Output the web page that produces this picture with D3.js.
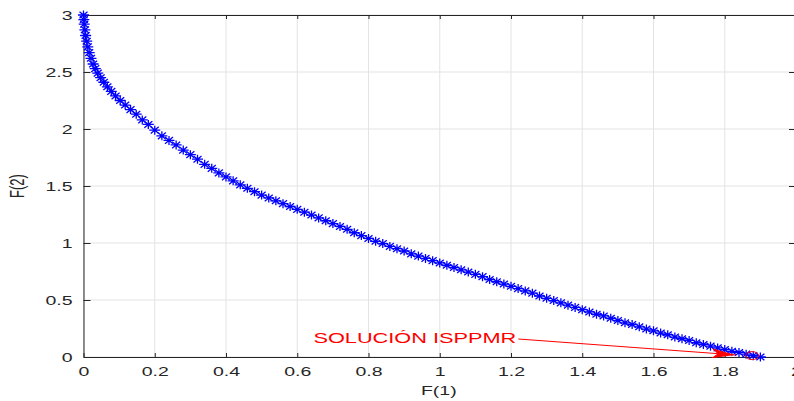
<!DOCTYPE html>
<html>
  <head>
    <meta charset="utf-8">
    <script src="https://cdn.jsdelivr.net/npm/d3@7"></script>
    <style>
      body { margin: 0; background: #fff; }
      text { font-family: "Liberation Sans", Arial, sans-serif; fill: #262626; }
    </style>
  </head>
  <body>
    <div id="my_dataviz"></div>
  <script>

    // Pareto front, F(1) vs F(2)
    let f1 = [0.000, 0.001, 0.002, 0.004, 0.006, 0.009, 0.012, 0.016, 0.021, 0.027,
              0.033, 0.040, 0.048, 0.057, 0.067, 0.078, 0.090, 0.103, 0.117, 0.132,
              0.148, 0.165, 0.182,
              0.20, 0.22, 0.24, 0.26, 0.28, 0.30, 0.32, 0.34, 0.36, 0.38,
              0.40, 0.42, 0.44, 0.46, 0.48, 0.50, 0.52, 0.54, 0.56, 0.58,
              0.60, 0.62, 0.64, 0.66, 0.68, 0.70, 0.72, 0.74, 0.76, 0.78,
              0.80, 0.82, 0.84, 0.86, 0.88, 0.90, 0.92, 0.94, 0.96, 0.98,
              1.00, 1.02, 1.04, 1.06, 1.08, 1.10, 1.12, 1.14, 1.16, 1.18,
              1.20, 1.22, 1.24, 1.26, 1.28, 1.30, 1.32, 1.34, 1.36, 1.38,
              1.40, 1.42, 1.44, 1.46, 1.48, 1.50, 1.52, 1.54, 1.56, 1.58,
              1.60, 1.62, 1.64, 1.66, 1.68, 1.70, 1.72, 1.74, 1.76, 1.78,
              1.80, 1.82, 1.84, 1.86, 1.88, 1.90];
    let f2 = [3.00, 2.96, 2.92, 2.87, 2.82, 2.77, 2.72, 2.67, 2.62, 2.57,
              2.53, 2.49, 2.45, 2.41, 2.37, 2.33, 2.29, 2.25, 2.21, 2.17,
              2.13, 2.08, 2.04,
              1.99, 1.94, 1.90, 1.86, 1.815, 1.775, 1.735, 1.69, 1.655, 1.615,
              1.58, 1.545, 1.51, 1.48, 1.45, 1.42, 1.395, 1.37, 1.345, 1.32,
              1.295, 1.27, 1.245, 1.22, 1.195, 1.17, 1.145, 1.12, 1.09, 1.065,
              1.04, 1.015, 0.995, 0.97, 0.95, 0.93, 0.905, 0.885, 0.865, 0.845,
              0.825, 0.805, 0.785, 0.765, 0.745, 0.725, 0.705, 0.68, 0.66, 0.64,
              0.62, 0.60, 0.58, 0.56, 0.535, 0.515, 0.495, 0.475, 0.455, 0.435,
              0.415, 0.395, 0.375, 0.36, 0.34, 0.32, 0.30, 0.285, 0.265, 0.245,
              0.23, 0.21, 0.195, 0.175, 0.16, 0.145, 0.125, 0.11, 0.095, 0.08,
              0.065, 0.05, 0.04, 0.025, 0.012, 0.000];

    let xTicks = [0, 0.2, 0.4, 0.6, 0.8, 1, 1.2, 1.4, 1.6, 1.8, 2];
    let yTicks = [0, 0.5, 1, 1.5, 2, 2.5, 3];

    let solution = [1.877, 0.012];          // circled point
    let arrowTip = [1.83, 0.018];
    let arrowTail = [1.2205, 0.158];
    let label = "SOLUCIÓN ISPPMR";

    let data = f1.map(function(d, i) { return {x: d, y: f2[i]}; });

    let margin = {top: 15, right: -2, bottom: 44, left: 83.5},
        width = 794 - margin.left - margin.right,
        height = 401 - margin.top - margin.bottom;

    let sx = 1.5; // the picture is stretched sideways

    let svg = d3.select("#my_dataviz")
                .append("svg")
                  .attr("width", 794)
                  .attr("height", 401)
                .append("g")
                  .attr("transform", "translate(" + margin.left + "," + margin.top + ")");

    let x = d3.scaleLinear().domain([0, 2]).range([0, width]);
    let y = d3.scaleLinear().domain([0, 3]).range([height, 0]);

    // grid
    svg.append("g")
       .selectAll("line")
       .data(xTicks)
       .enter().append("line")
         .attr("x1", function(d) { return x(d); })
         .attr("x2", function(d) { return x(d); })
         .attr("y1", 0).attr("y2", height)
         .attr("stroke", "#e3e3e3");
    svg.append("g")
       .selectAll("line")
       .data(yTicks)
       .enter().append("line")
         .attr("y1", function(d) { return y(d); })
         .attr("y2", function(d) { return y(d); })
         .attr("x1", 0).attr("x2", width)
         .attr("stroke", "#e3e3e3");

    // axes, ticks pointing in
    let fmt = d3.format("");
    let xAxis = svg.append("g")
       .attr("transform", "translate(0," + height + ")")
       .call(d3.axisBottom(x).tickValues(xTicks).tickFormat(fmt).tickSizeInner(-4).tickSizeOuter(0));
    xAxis.selectAll("text")
       .attr("y", 10)
       .attr("transform", "scale(" + sx + ",1)");

    let yAxis = svg.append("g")
       .call(d3.axisLeft(y).tickValues(yTicks).tickFormat(fmt).tickSizeInner(-7).tickSizeOuter(0));
    yAxis.selectAll("text")
       .attr("x", -11 / sx)
       .attr("transform", "scale(" + sx + ",1)");

    svg.append("g")
       .call(d3.axisTop(x).tickValues(xTicks).tickFormat("").tickSizeInner(-4).tickSizeOuter(0));
    svg.append("g")
       .attr("transform", "translate(" + width + ",0)")
       .call(d3.axisRight(y).tickValues(yTicks).tickFormat("").tickSizeInner(-7).tickSizeOuter(0));

    svg.selectAll(".domain").attr("stroke", "#262626");
    svg.selectAll(".tick line").attr("stroke", "#262626");
    svg.selectAll(".tick text")
       .style("font-family", "'Liberation Sans', Arial, sans-serif")
       .style("font-size", "13px")
       .attr("fill", "#262626");

    // axis labels
    svg.append("text")
       .attr("transform", "translate(" + (x(1) - 1) + "," + (height + 38) + ") scale(" + sx + ",1)")
       .attr("text-anchor", "middle")
       .style("font-size", "13px")
       .text("F(1)");

    svg.append("text")
       .attr("transform", "translate(" + (-60) + "," + (height / 2) + ") scale(" + sx + ",1) rotate(-90)")
       .attr("text-anchor", "middle")
       .style("font-size", "13px")
       .text("F(2)");

    // asterisk markers
    let star = "M-5.5,0L5.5,0M0,-4.5L0,4.5M-4,-3.3L4,3.3M-4,3.3L4,-3.3";
    svg.append("g")
       .selectAll("path")
       .data(data)
       .enter().append("path")
         .attr("transform", function(d) { return "translate(" + x(d.x) + "," + y(d.y) + ")"; })
         .attr("d", star)
         .attr("fill", "none")
         .attr("stroke", "#0000ff")
         .attr("stroke-width", 1.3);

    // annotation
    svg.append("ellipse")
       .attr("cx", x(solution[0]))
       .attr("cy", y(solution[1]))
       .attr("rx", 6.5)
       .attr("ry", 4)
       .attr("fill", "none")
       .attr("stroke", "#ff0000")
       .attr("stroke-width", 1);

    svg.append("defs").append("marker")
       .attr("id", "head")
       .attr("viewBox", "0 0 24 10")
       .attr("refX", 24).attr("refY", 5)
       .attr("markerUnits", "userSpaceOnUse")
       .attr("markerWidth", 24).attr("markerHeight", 10)
       .attr("orient", "auto")
       .append("path")
         .attr("d", "M0,0L24,5L0,10L6,5Z")
         .attr("fill", "#ff0000");

    svg.append("line")
       .attr("x1", x(arrowTail[0])).attr("y1", y(arrowTail[1]))
       .attr("x2", x(arrowTip[0])).attr("y2", y(arrowTip[1]))
       .attr("stroke", "#ff0000")
       .attr("stroke-width", 1)
       .attr("marker-end", "url(#head)");

    svg.append("text")
       .attr("transform", "translate(" + (x(arrowTail[0]) - 2) + "," + (y(arrowTail[1]) + 4.5) + ") scale(" + sx + ",1)")
       .attr("text-anchor", "end")
       .style("font-size", "14.5px")
       .style("fill", "#ff0000")
       .text(label);

  </script>
  </body>
</html>
